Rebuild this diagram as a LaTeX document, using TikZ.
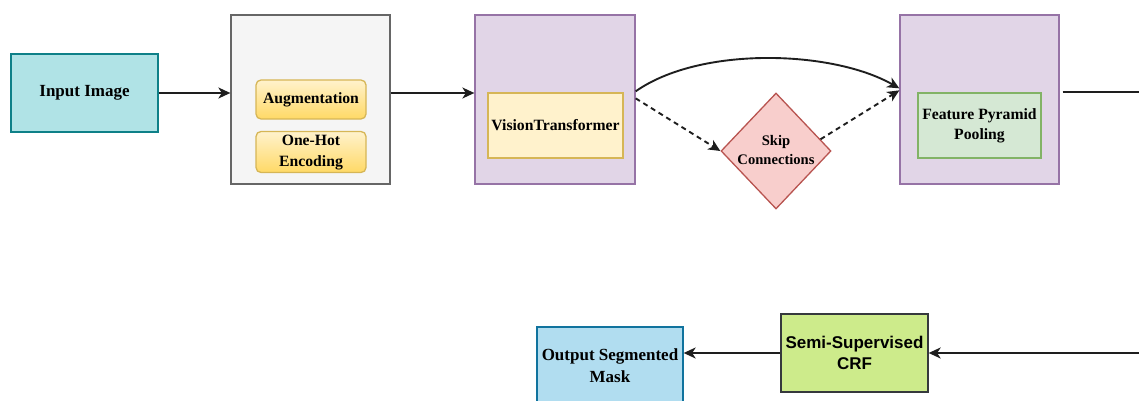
\documentclass[tikz,border=0pt]{standalone}
\usepackage{fontspec}
\setmainfont{Liberation Serif}
\newfontfamily\crffont{Liberation Sans}
\usetikzlibrary{shapes.geometric,arrows.meta,calc}

\definecolor{inputfill}{HTML}{B0E3E6}
\definecolor{inputline}{HTML}{0E8088}
\definecolor{grayfill}{HTML}{F5F5F5}
\definecolor{grayline}{HTML}{666666}
\definecolor{yellowfill}{HTML}{FFF2CC}
\definecolor{yellowdeep}{HTML}{FFD966}
\definecolor{yellowline}{HTML}{D6B656}
\definecolor{purplefill}{HTML}{E1D5E7}
\definecolor{purpleline}{HTML}{9673A6}
\definecolor{redfill}{HTML}{F8CECC}
\definecolor{redline}{HTML}{B85450}
\definecolor{greenfill}{HTML}{D5E8D4}
\definecolor{greenline}{HTML}{82B366}
\definecolor{bluefill}{HTML}{B1DDF0}
\definecolor{blueline}{HTML}{10739E}
\definecolor{limefill}{HTML}{CDEB8B}
\definecolor{limeline}{HTML}{36393D}
\definecolor{wire}{HTML}{1E1E1E}

% two centred lines, nudged a little below the node centre
\newcommand{\twolines}[2]{\raisebox{-2pt}{\begin{tabular}{@{}c@{}}#1\\#2\end{tabular}}}

\tikzset{
  box/.style={draw, line width=1.3pt, inner sep=0pt, align=center,
    font=\fontsize{15.7}{20.5}\selectfont\bfseries},
  inputbox/.style={box, fill=inputfill, draw=inputline, font=\fontsize{17}{21}\selectfont\bfseries},
  groupgray/.style={box, fill=grayfill, draw=grayline},
  grouppurple/.style={box, fill=purplefill, draw=purpleline},
  pill/.style={box, rounded corners=5pt, draw=yellowline,
    top color=yellowfill, bottom color=yellowdeep},
  vtbox/.style={box, fill=yellowfill, draw=yellowline},
  fppbox/.style={box, fill=greenfill, draw=greenline},
  skipbox/.style={box, shape=diamond, fill=redfill, draw=redline},
  skiptext/.style={font=\fontsize{14.6}{19.5}\selectfont\bfseries},
  outbox/.style={box, fill=bluefill, draw=blueline, font=\fontsize{17}{22}\selectfont\bfseries},
  crfbox/.style={box, fill=limefill, draw=limeline, font=\fontsize{17}{21}\crffont\bfseries},
  tip/.style={-{Stealth[length=12pt,width=11pt,inset=3.5pt]}},
  link/.style={tip, draw=wire, line width=1.9pt},
  skiplink/.style={link, dash pattern=on 5pt off 4pt},
}

\begin{document}
\begin{tikzpicture}[x=1pt,y=-1pt]
  \useasboundingbox (0,0) rectangle (1139,401);

  % first row: input and the three processing stages
  \node[inputbox, minimum width=147pt, minimum height=78pt] (input) at (84.5,93) {Input Image};
  \node[groupgray, minimum width=159pt, minimum height=169pt] (prep) at (310.5,99.5) {};
  \node[pill, minimum width=110pt, minimum height=39pt] (aug) at (311,99.5) {\raisebox{-2pt}{Augmentation}};
  \node[pill, minimum width=110pt, minimum height=39pt] (onehot) at (311,152) {\twolines{One-Hot}{Encoding}};

  \node[grouppurple, minimum width=160pt, minimum height=169pt] (vitgroup) at (555,99.5) {};
  \node[vtbox, minimum width=135pt, minimum height=65pt] (vit) at (555.5,125.5) {\raisebox{-2pt}{VisionTransformer}};

  \node[skipbox, minimum width=110pt, minimum height=116pt,
        label={[skiptext]center:\twolines{Skip}{Connections}}] (skip) at (776,151) {};

  \node[grouppurple, minimum width=159pt, minimum height=169pt] (fppgroup) at (979.5,99.5) {};
  \node[fppbox, minimum width=123pt, minimum height=65pt] (fpp) at (979.5,125.5) {\twolines{Feature Pyramid}{Pooling}};

  % second row: refinement and output
  \node[crfbox, minimum width=147pt, minimum height=78pt] (crf) at (854.5,353) {Semi-Supervised\\CRF};
  \node[outbox, minimum width=146pt, minimum height=78pt] (out) at (610,366) {Output Segmented\\Mask};

  % anchor points of the connectors
  \coordinate (vitout) at ($(vitgroup.north east)+(0,77)$);
  \coordinate (vitdash) at ($(vitgroup.north east)+(0,84)$);
  \coordinate (fppin) at ($(fppgroup.north west)+(0,74)$);
  \coordinate (fppdash) at ($(fppgroup.north west)+(0,76)$);
  \coordinate (fppout) at ($(fppgroup.north east)+(3,78)$);
  % turning points of the return path, beyond the right edge
  \coordinate (turntop) at ($(fppout)+(90,0)$);
  \coordinate (turnbot) at (turntop |- crf.east);

  % connectors
  \draw[link] (input.east) -- (input.east -| prep.west);
  \draw[link] (input.east -| prep.east) -- (input.east -| vitgroup.west);
  \draw[link] (vitout) .. controls (700,46) and (832,50) .. (fppin);
  \draw[skiplink] (vitdash) -- (skip.west);
  \draw[skiplink] ($(skip.east)!0.2!(skip.north)$) -- (fppdash);
  \draw[link] (fppout) -- (turntop) -- (turnbot) -- (crf.east);
  \draw[link] (crf.west) -- (crf.west -| out.east);
\end{tikzpicture}
\end{document}
